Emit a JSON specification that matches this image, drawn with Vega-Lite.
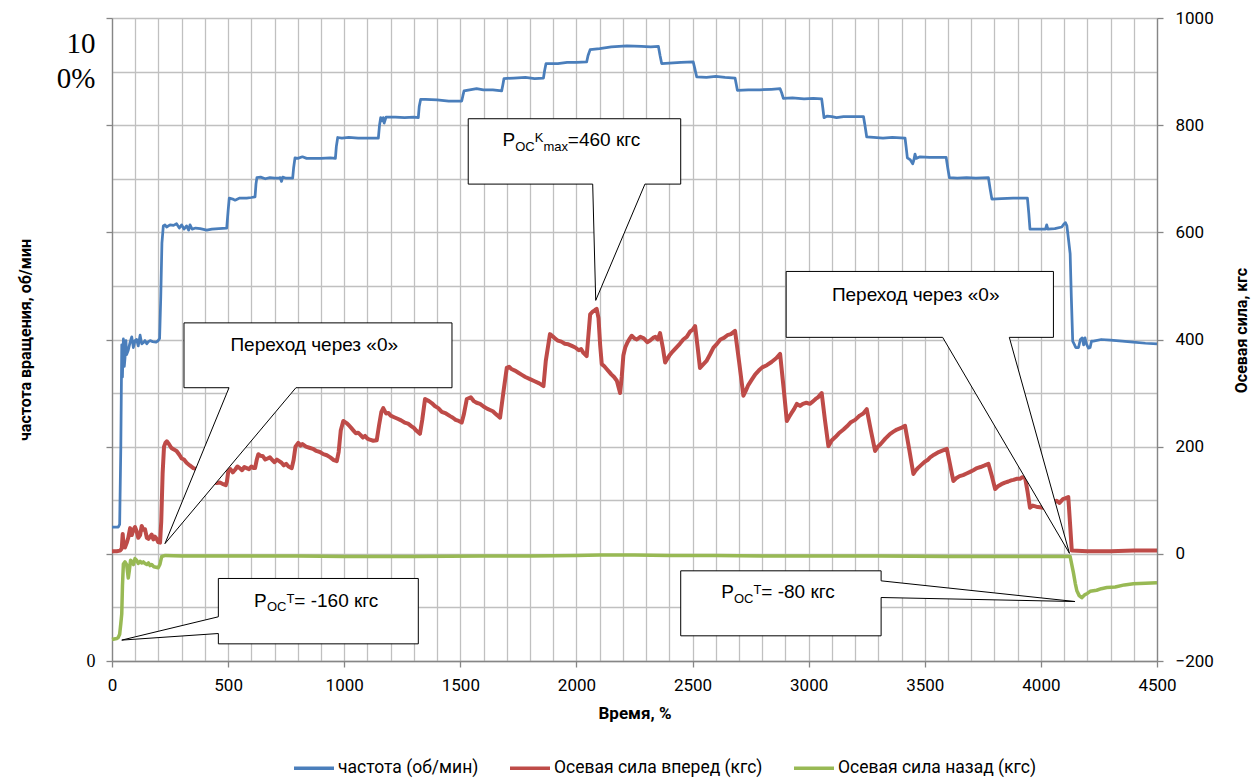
{
"$schema":"https://vega.github.io/schema/vega-lite/v6.json",
"width":1045,"height":643,
"autosize":{"type":"none"},
"padding":{"left":112,"top":18,"right":95,"bottom":117},
"background":"white",
"config":{"view":{"stroke":null},"font":"Roboto"},
"datasets":{
"blue":[{"t":0,"v":50},{"t":27,"v":50},{"t":33,"v":55},{"t":38,"v":200},{"t":42,"v":390},{"t":45,"v":330},{"t":49,"v":401},{"t":53,"v":350},{"t":56,"v":365},{"t":60,"v":398},{"t":63,"v":372},{"t":70,"v":380},{"t":78,"v":395},{"t":85,"v":405},{"t":92,"v":385},{"t":99,"v":398},{"t":106,"v":400},{"t":113,"v":388},{"t":121,"v":408},{"t":128,"v":392},{"t":135,"v":394},{"t":142,"v":398},{"t":150,"v":392},{"t":157,"v":396},{"t":164,"v":398},{"t":175,"v":396},{"t":190,"v":395},{"t":199,"v":398},{"t":205,"v":402},{"t":210,"v":480},{"t":215,"v":580},{"t":221,"v":612},{"t":228,"v":614},{"t":235,"v":610},{"t":250,"v":614},{"t":265,"v":613},{"t":278,"v":616},{"t":290,"v":608},{"t":300,"v":614},{"t":310,"v":606},{"t":321,"v":612},{"t":330,"v":604},{"t":336,"v":614},{"t":345,"v":606},{"t":360,"v":608},{"t":380,"v":607},{"t":408,"v":604},{"t":430,"v":606},{"t":460,"v":607},{"t":494,"v":608},{"t":500,"v":640},{"t":505,"v":664},{"t":520,"v":662},{"t":530,"v":660},{"t":550,"v":664},{"t":580,"v":664},{"t":600,"v":665},{"t":616,"v":666},{"t":620,"v":690},{"t":624,"v":702},{"t":640,"v":703},{"t":660,"v":700},{"t":680,"v":702},{"t":700,"v":701},{"t":715,"v":701},{"t":724,"v":702},{"t":730,"v":695},{"t":735,"v":703},{"t":750,"v":701},{"t":778,"v":701},{"t":782,"v":720},{"t":788,"v":739},{"t":800,"v":738},{"t":820,"v":741},{"t":838,"v":738},{"t":860,"v":738},{"t":900,"v":738},{"t":940,"v":739},{"t":962,"v":738},{"t":966,"v":760},{"t":972,"v":777},{"t":990,"v":776},{"t":1020,"v":777},{"t":1060,"v":776},{"t":1100,"v":776},{"t":1147,"v":776},{"t":1152,"v":800},{"t":1157,"v":814},{"t":1163,"v":808},{"t":1168,"v":814},{"t":1172,"v":804},{"t":1180,"v":815},{"t":1220,"v":815},{"t":1260,"v":814},{"t":1300,"v":815},{"t":1319,"v":814},{"t":1323,"v":835},{"t":1329,"v":848},{"t":1350,"v":848},{"t":1400,"v":847},{"t":1450,"v":845},{"t":1506,"v":845},{"t":1511,"v":855},{"t":1516,"v":864},{"t":1540,"v":866},{"t":1570,"v":868},{"t":1599,"v":866},{"t":1640,"v":866},{"t":1678,"v":864},{"t":1683,"v":875},{"t":1688,"v":887},{"t":1730,"v":888},{"t":1780,"v":889},{"t":1820,"v":887},{"t":1858,"v":888},{"t":1863,"v":902},{"t":1869,"v":915},{"t":1920,"v":915},{"t":1960,"v":917},{"t":2000,"v":917},{"t":2044,"v":918},{"t":2050,"v":930},{"t":2059,"v":941},{"t":2100,"v":943},{"t":2150,"v":946},{"t":2217,"v":948},{"t":2280,"v":947},{"t":2320,"v":946},{"t":2353,"v":947},{"t":2360,"v":930},{"t":2367,"v":915},{"t":2400,"v":916},{"t":2450,"v":917},{"t":2503,"v":918},{"t":2510,"v":905},{"t":2518,"v":890},{"t":2560,"v":889},{"t":2600,"v":891},{"t":2640,"v":889},{"t":2683,"v":888},{"t":2688,"v":877},{"t":2693,"v":865},{"t":2740,"v":866},{"t":2790,"v":866},{"t":2840,"v":867},{"t":2877,"v":868},{"t":2884,"v":860},{"t":2891,"v":850},{"t":2930,"v":851},{"t":2980,"v":849},{"t":3020,"v":850},{"t":3056,"v":849},{"t":3061,"v":832},{"t":3066,"v":814},{"t":3080,"v":817},{"t":3100,"v":816},{"t":3120,"v":814},{"t":3150,"v":816},{"t":3200,"v":816},{"t":3236,"v":816},{"t":3243,"v":798},{"t":3250,"v":778},{"t":3280,"v":777},{"t":3320,"v":776},{"t":3360,"v":777},{"t":3415,"v":776},{"t":3420,"v":758},{"t":3425,"v":739},{"t":3438,"v":735},{"t":3448,"v":728},{"t":3453,"v":735},{"t":3458,"v":746},{"t":3463,"v":738},{"t":3480,"v":741},{"t":3520,"v":740},{"t":3560,"v":740},{"t":3592,"v":740},{"t":3599,"v":720},{"t":3606,"v":702},{"t":3640,"v":701},{"t":3680,"v":702},{"t":3720,"v":701},{"t":3774,"v":702},{"t":3781,"v":682},{"t":3789,"v":662},{"t":3830,"v":663},{"t":3880,"v":664},{"t":3942,"v":664},{"t":3948,"v":635},{"t":3953,"v":606},{"t":3990,"v":606},{"t":4020,"v":606},{"t":4025,"v":614},{"t":4030,"v":606},{"t":4060,"v":607},{"t":4090,"v":610},{"t":4100,"v":616},{"t":4106,"v":618},{"t":4112,"v":612},{"t":4118,"v":590},{"t":4126,"v":560},{"t":4131,"v":480},{"t":4137,"v":397},{"t":4145,"v":390},{"t":4150,"v":385},{"t":4162,"v":385},{"t":4170,"v":400},{"t":4178,"v":403},{"t":4184,"v":390},{"t":4190,"v":403},{"t":4196,"v":392},{"t":4205,"v":384},{"t":4212,"v":385},{"t":4218,"v":397},{"t":4226,"v":397},{"t":4260,"v":400},{"t":4300,"v":399},{"t":4350,"v":397},{"t":4398,"v":395},{"t":4450,"v":393},{"t":4500,"v":392}],
"red":[{"t":0,"v":5},{"t":20,"v":5},{"t":35,"v":6},{"t":42,"v":10},{"t":46,"v":37},{"t":50,"v":15},{"t":56,"v":12},{"t":63,"v":20},{"t":70,"v":30},{"t":78,"v":48},{"t":85,"v":35},{"t":92,"v":45},{"t":99,"v":50},{"t":106,"v":42},{"t":113,"v":30},{"t":121,"v":35},{"t":128,"v":52},{"t":135,"v":45},{"t":142,"v":46},{"t":150,"v":30},{"t":157,"v":28},{"t":164,"v":32},{"t":171,"v":36},{"t":178,"v":27},{"t":185,"v":32},{"t":192,"v":28},{"t":199,"v":22},{"t":207,"v":21},{"t":212,"v":60},{"t":218,"v":150},{"t":224,"v":200},{"t":230,"v":207},{"t":236,"v":210},{"t":245,"v":205},{"t":255,"v":198},{"t":265,"v":195},{"t":278,"v":192},{"t":290,"v":185},{"t":300,"v":178},{"t":310,"v":176},{"t":321,"v":170},{"t":335,"v":165},{"t":350,"v":160},{"t":365,"v":158},{"t":380,"v":150},{"t":395,"v":146},{"t":410,"v":144},{"t":422,"v":142},{"t":435,"v":136},{"t":450,"v":132},{"t":465,"v":133},{"t":479,"v":130},{"t":490,"v":128},{"t":495,"v":135},{"t":501,"v":155},{"t":510,"v":158},{"t":520,"v":152},{"t":530,"v":157},{"t":540,"v":163},{"t":550,"v":160},{"t":560,"v":156},{"t":570,"v":162},{"t":580,"v":160},{"t":590,"v":158},{"t":600,"v":163},{"t":610,"v":160},{"t":616,"v":160},{"t":623,"v":175},{"t":630,"v":186},{"t":640,"v":183},{"t":650,"v":182},{"t":660,"v":176},{"t":670,"v":178},{"t":680,"v":180},{"t":690,"v":175},{"t":700,"v":171},{"t":710,"v":176},{"t":720,"v":173},{"t":730,"v":170},{"t":740,"v":165},{"t":750,"v":168},{"t":760,"v":163},{"t":774,"v":160},{"t":782,"v":175},{"t":790,"v":200},{"t":802,"v":207},{"t":812,"v":202},{"t":820,"v":205},{"t":835,"v":200},{"t":850,"v":198},{"t":865,"v":196},{"t":880,"v":192},{"t":895,"v":190},{"t":910,"v":186},{"t":925,"v":184},{"t":940,"v":180},{"t":955,"v":175},{"t":968,"v":173},{"t":976,"v":190},{"t":985,"v":230},{"t":996,"v":248},{"t":1010,"v":244},{"t":1020,"v":240},{"t":1030,"v":235},{"t":1040,"v":230},{"t":1050,"v":225},{"t":1060,"v":226},{"t":1070,"v":222},{"t":1080,"v":217},{"t":1090,"v":220},{"t":1100,"v":215},{"t":1110,"v":213},{"t":1125,"v":211},{"t":1140,"v":212},{"t":1150,"v":240},{"t":1160,"v":265},{"t":1168,"v":272},{"t":1180,"v":262},{"t":1190,"v":263},{"t":1200,"v":258},{"t":1215,"v":255},{"t":1230,"v":252},{"t":1245,"v":249},{"t":1260,"v":245},{"t":1275,"v":243},{"t":1290,"v":238},{"t":1300,"v":235},{"t":1310,"v":230},{"t":1326,"v":224},{"t":1336,"v":250},{"t":1348,"v":289},{"t":1365,"v":285},{"t":1378,"v":281},{"t":1390,"v":276},{"t":1405,"v":272},{"t":1420,"v":265},{"t":1438,"v":262},{"t":1456,"v":257},{"t":1468,"v":254},{"t":1480,"v":250},{"t":1493,"v":248},{"t":1506,"v":245},{"t":1515,"v":260},{"t":1528,"v":289},{"t":1545,"v":292},{"t":1558,"v":285},{"t":1570,"v":282},{"t":1585,"v":280},{"t":1600,"v":275},{"t":1615,"v":271},{"t":1630,"v":268},{"t":1640,"v":266},{"t":1650,"v":262},{"t":1660,"v":258},{"t":1671,"v":254},{"t":1685,"v":300},{"t":1700,"v":347},{"t":1710,"v":349},{"t":1720,"v":345},{"t":1735,"v":342},{"t":1750,"v":338},{"t":1765,"v":334},{"t":1780,"v":330},{"t":1800,"v":326},{"t":1820,"v":322},{"t":1840,"v":318},{"t":1858,"v":313},{"t":1868,"v":360},{"t":1886,"v":410},{"t":1900,"v":405},{"t":1910,"v":401},{"t":1920,"v":398},{"t":1935,"v":396},{"t":1950,"v":392},{"t":1965,"v":391},{"t":1980,"v":388},{"t":1995,"v":385},{"t":2010,"v":380},{"t":2020,"v":382},{"t":2030,"v":375},{"t":2044,"v":369},{"t":2052,"v":410},{"t":2059,"v":447},{"t":2070,"v":452},{"t":2080,"v":455},{"t":2087,"v":457},{"t":2095,"v":440},{"t":2102,"v":390},{"t":2109,"v":354},{"t":2120,"v":350},{"t":2130,"v":345},{"t":2140,"v":340},{"t":2150,"v":335},{"t":2162,"v":330},{"t":2174,"v":323},{"t":2188,"v":300},{"t":2195,"v":330},{"t":2202,"v":370},{"t":2210,"v":385},{"t":2220,"v":395},{"t":2230,"v":402},{"t":2238,"v":407},{"t":2250,"v":402},{"t":2260,"v":400},{"t":2275,"v":405},{"t":2290,"v":402},{"t":2305,"v":395},{"t":2317,"v":398},{"t":2330,"v":403},{"t":2340,"v":405},{"t":2350,"v":400},{"t":2360,"v":412},{"t":2372,"v":385},{"t":2382,"v":357},{"t":2390,"v":363},{"t":2400,"v":370},{"t":2415,"v":378},{"t":2430,"v":385},{"t":2445,"v":392},{"t":2460,"v":400},{"t":2475,"v":405},{"t":2490,"v":415},{"t":2500,"v":418},{"t":2511,"v":425},{"t":2522,"v":385},{"t":2532,"v":347},{"t":2545,"v":353},{"t":2560,"v":360},{"t":2575,"v":372},{"t":2590,"v":385},{"t":2605,"v":392},{"t":2620,"v":400},{"t":2635,"v":403},{"t":2650,"v":408},{"t":2665,"v":410},{"t":2683,"v":416},{"t":2700,"v":360},{"t":2719,"v":295},{"t":2730,"v":305},{"t":2740,"v":315},{"t":2755,"v":325},{"t":2770,"v":335},{"t":2785,"v":342},{"t":2800,"v":348},{"t":2820,"v":352},{"t":2840,"v":358},{"t":2860,"v":365},{"t":2877,"v":373},{"t":2892,"v":310},{"t":2906,"v":248},{"t":2915,"v":255},{"t":2925,"v":262},{"t":2937,"v":270},{"t":2949,"v":280},{"t":2963,"v":276},{"t":2975,"v":280},{"t":2990,"v":282},{"t":3005,"v":280},{"t":3020,"v":285},{"t":3030,"v":289},{"t":3040,"v":292},{"t":3056,"v":300},{"t":3070,"v":250},{"t":3085,"v":201},{"t":3100,"v":212},{"t":3115,"v":218},{"t":3130,"v":225},{"t":3150,"v":232},{"t":3165,"v":238},{"t":3180,"v":245},{"t":3200,"v":250},{"t":3220,"v":258},{"t":3235,"v":262},{"t":3250,"v":270},{"t":3268,"v":230},{"t":3286,"v":192},{"t":3298,"v":200},{"t":3310,"v":205},{"t":3330,"v":215},{"t":3351,"v":224},{"t":3365,"v":228},{"t":3380,"v":232},{"t":3398,"v":235},{"t":3415,"v":239},{"t":3433,"v":195},{"t":3451,"v":149},{"t":3460,"v":155},{"t":3470,"v":160},{"t":3485,"v":166},{"t":3500,"v":172},{"t":3512,"v":175},{"t":3523,"v":180},{"t":3540,"v":185},{"t":3560,"v":190},{"t":3578,"v":193},{"t":3595,"v":196},{"t":3609,"v":166},{"t":3623,"v":136},{"t":3635,"v":141},{"t":3650,"v":145},{"t":3665,"v":147},{"t":3680,"v":150},{"t":3695,"v":153},{"t":3709,"v":156},{"t":3725,"v":160},{"t":3740,"v":162},{"t":3758,"v":165},{"t":3774,"v":168},{"t":3789,"v":145},{"t":3803,"v":121},{"t":3815,"v":126},{"t":3830,"v":130},{"t":3845,"v":133},{"t":3860,"v":135},{"t":3872,"v":137},{"t":3882,"v":138},{"t":3895,"v":140},{"t":3910,"v":140},{"t":3920,"v":143},{"t":3932,"v":142},{"t":3943,"v":115},{"t":3953,"v":86},{"t":3965,"v":90},{"t":3980,"v":88},{"t":3995,"v":87},{"t":4011,"v":86},{"t":4025,"v":90},{"t":4040,"v":92},{"t":4055,"v":96},{"t":4068,"v":99},{"t":4080,"v":95},{"t":4095,"v":102},{"t":4107,"v":104},{"t":4118,"v":106},{"t":4125,"v":60},{"t":4133,"v":6},{"t":4200,"v":5},{"t":4300,"v":5},{"t":4400,"v":6},{"t":4500,"v":6}],
"green":[{"t":0,"v":-160},{"t":20,"v":-158},{"t":27,"v":-156},{"t":33,"v":-150},{"t":38,"v":-130},{"t":42,"v":-112},{"t":45,"v":-60},{"t":49,"v":-19},{"t":56,"v":-15},{"t":63,"v":-20},{"t":70,"v":-45},{"t":75,"v":-30},{"t":80,"v":-12},{"t":85,"v":-14},{"t":92,"v":-20},{"t":99,"v":-9},{"t":106,"v":-12},{"t":113,"v":-18},{"t":121,"v":-14},{"t":128,"v":-17},{"t":135,"v":-15},{"t":142,"v":-18},{"t":150,"v":-20},{"t":157,"v":-17},{"t":164,"v":-22},{"t":171,"v":-20},{"t":180,"v":-24},{"t":190,"v":-25},{"t":199,"v":-26},{"t":206,"v":-20},{"t":214,"v":-5},{"t":230,"v":-3},{"t":300,"v":-4},{"t":500,"v":-4},{"t":800,"v":-4},{"t":1000,"v":-5},{"t":1300,"v":-5},{"t":1600,"v":-4},{"t":1800,"v":-4},{"t":2000,"v":-3},{"t":2100,"v":-2},{"t":2250,"v":-2},{"t":2400,"v":-3},{"t":2600,"v":-3},{"t":2800,"v":-4},{"t":3000,"v":-4},{"t":3300,"v":-4},{"t":3600,"v":-5},{"t":3900,"v":-5},{"t":4100,"v":-5},{"t":4126,"v":-5},{"t":4133,"v":-20},{"t":4140,"v":-35},{"t":4148,"v":-55},{"t":4155,"v":-69},{"t":4165,"v":-78},{"t":4176,"v":-82},{"t":4190,"v":-76},{"t":4200,"v":-74},{"t":4212,"v":-70},{"t":4240,"v":-68},{"t":4260,"v":-65},{"t":4284,"v":-63},{"t":4320,"v":-62},{"t":4360,"v":-58},{"t":4398,"v":-56},{"t":4450,"v":-55},{"t":4500,"v":-54}],
"callouts":[
{"id":"c1","i":0,"t":310,"v":431},{"id":"c1","i":1,"t":1464,"v":431},{"id":"c1","i":2,"t":1464,"v":310},{"id":"c1","i":3,"t":792,"v":310},{"id":"c1","i":4,"t":228,"v":19},{"id":"c1","i":5,"t":504,"v":310},{"id":"c1","i":6,"t":310,"v":310},{"id":"c1","i":7,"t":310,"v":431},
{"id":"c2","i":0,"t":1534,"v":812},{"id":"c2","i":1,"t":2449,"v":812},{"id":"c2","i":2,"t":2449,"v":690},{"id":"c2","i":3,"t":2295,"v":690},{"id":"c2","i":4,"t":2083,"v":473},{"id":"c2","i":5,"t":2070,"v":690},{"id":"c2","i":6,"t":1534,"v":690},{"id":"c2","i":7,"t":1534,"v":812},
{"id":"c3","i":0,"t":2903,"v":527},{"id":"c3","i":1,"t":4054,"v":527},{"id":"c3","i":2,"t":4054,"v":404},{"id":"c3","i":3,"t":3864,"v":404},{"id":"c3","i":4,"t":4123,"v":1},{"id":"c3","i":5,"t":3577,"v":404},{"id":"c3","i":6,"t":2903,"v":404},{"id":"c3","i":7,"t":2903,"v":527},
{"id":"c4","i":0,"t":458,"v":-46},{"id":"c4","i":1,"t":1319,"v":-46},{"id":"c4","i":2,"t":1319,"v":-168},{"id":"c4","i":3,"t":458,"v":-168},{"id":"c4","i":4,"t":458,"v":-148.7},{"id":"c4","i":5,"t":42,"v":-161},{"id":"c4","i":6,"t":458,"v":-117.5},{"id":"c4","i":7,"t":458,"v":-46},
{"id":"c5","i":0,"t":2449,"v":-31.7},{"id":"c5","i":1,"t":3312,"v":-31.7},{"id":"c5","i":2,"t":3312,"v":-50.4},{"id":"c5","i":3,"t":4147,"v":-89},{"id":"c5","i":4,"t":3312,"v":-81.5},{"id":"c5","i":5,"t":3312,"v":-153},{"id":"c5","i":6,"t":2449,"v":-153},{"id":"c5","i":7,"t":2449,"v":-31.7}],
"texts":[
{"t":510,"v":379,"txt":"Переход через «0»","role":"main"},
{"t":3100,"v":471,"txt":"Переход через «0»","role":"main"},
{"t":1682,"v":761,"txt":"P","role":"main"},
{"t":1736,"v":752,"txt":"OC","role":"sub"},
{"t":1820,"v":769,"txt":"K","role":"sup"},
{"t":1858,"v":752,"txt":"max","role":"sub"},
{"t":1963,"v":761,"txt":"=460 кгс","role":"main"},
{"t":612,"v":-99,"txt":"P","role":"main"},
{"t":667,"v":-107,"txt":"OC","role":"sub"},
{"t":751,"v":-91,"txt":"T","role":"sup"},
{"t":785,"v":-99,"txt":"= -160 кгс","role":"main"},
{"t":2624,"v":-83,"txt":"P","role":"main"},
{"t":2678,"v":-92,"txt":"OC","role":"sub"},
{"t":2762,"v":-75,"txt":"T","role":"sup"},
{"t":2796,"v":-83,"txt":"= -80 кгс","role":"main"}]
},
"resolve":{"axis":{"x":"independent","y":"independent"}},
"layer":[
{"data":{"name":"blue"},
 "mark":{"type":"line","strokeWidth":2.75,"strokeJoin":"round"},
 "encoding":{
  "x":{"field":"t","type":"quantitative","scale":{"domain":[0,4500],"nice":false,"zero":false},
   "axis":{"values":[0,100,200,300,400,500,600,700,800,900,1000,1100,1200,1300,1400,1500,1600,1700,1800,1900,2000,2100,2200,2300,2400,2500,2600,2700,2800,2900,3000,3100,3200,3300,3400,3500,3600,3700,3800,3900,4000,4100,4200,4300,4400,4500],
    "format":"d","labelExpr":"datum.value % 500 === 0 ? datum.label : ''",
    "grid":true,"gridColor":"#c0c0c0","gridWidth":1.3,
    "domainColor":"#868686","domainWidth":1.3,"tickColor":"#868686","tickWidth":1.3,"tickSize":6,
    "tickOpacity":{"condition":{"test":"datum.value % 500 === 0","value":1},"value":0},
    "labelFont":"Roboto","labelFontSize":17,"labelColor":"#000","labelPadding":10,
    "labelOverlap":false,"labelFlush":false,"labelBound":false,
    "title":"Время, %","titleFont":"Roboto","titleFontSize":17,"titleFontWeight":"bold","titleColor":"#000","titlePadding":12}},
  "y":{"field":"v","type":"quantitative","scale":{"domain":[-200,1000],"nice":false,"zero":false},
   "axis":{"orient":"left","values":[-200,-100,0,100,200,300,400,500,600,700,800,900,1000],
    "grid":true,"gridColor":"#c0c0c0","gridWidth":1.3,
    "domainColor":"#868686","domainWidth":1.3,"tickColor":"#868686","tickWidth":1.3,"tickSize":6,
    "tickOpacity":{"condition":{"test":"(datum.value + 200) % 200 === 0","value":1},"value":0},
    "labelExpr":"datum.value === 1000 ? ['10', '0%'] : (datum.value === -200 ? '0' : '')",
    "labelFont":"Liberation Serif",
    "labelFontSize":{"condition":{"test":"datum.value === 1000","value":29},"value":18},
    "labelBaseline":{"condition":{"test":"datum.value === 1000","value":"top"},"value":"middle"},
    "labelOffset":{"condition":{"test":"datum.value === 1000","value":11},"value":0},
    "labelLineHeight":35,"labelPadding":11,"labelColor":"#000",
    "labelOverlap":false,"labelFlush":false,"labelBound":false,
    "title":"частота вращения, об/мин","titleFont":"Roboto","titleFontSize":16,"titleFontWeight":"bold","titleColor":"#000","titlePadding":23}},
  "color":{"datum":"частота (об/мин)","type":"nominal",
   "scale":{"domain":["частота (об/мин)","Осевая сила вперед (кгс)","Осевая сила назад (кгс)"],"range":["#4A7EBB","#BE4B48","#98B954"]},
   "legend":{"orient":"none","legendX":180,"legendY":728,"direction":"horizontal","title":null,
    "symbolType":"stroke","symbolSize":1600,"symbolStrokeWidth":3.5,
    "labelFont":"Roboto","labelFontSize":17.5,"labelColor":"#000","labelLimit":400,
    "columnPadding":24,"labelOffset":2,"padding":0}}
 }},
{"data":{"name":"red"},
 "mark":{"type":"line","strokeWidth":4,"strokeJoin":"round"},
 "encoding":{
  "x":{"field":"t","type":"quantitative","scale":{"domain":[0,4500],"nice":false,"zero":false},"axis":null},
  "y":{"field":"v","type":"quantitative","scale":{"domain":[-200,1000],"nice":false,"zero":false},"axis":null},
  "color":{"datum":"Осевая сила вперед (кгс)","type":"nominal"}
 }},
{"data":{"name":"green"},
 "mark":{"type":"line","strokeWidth":3.5,"strokeJoin":"round"},
 "encoding":{
  "x":{"field":"t","type":"quantitative","scale":{"domain":[0,4500],"nice":false,"zero":false},"axis":null},
  "y":{"field":"v","type":"quantitative","scale":{"domain":[-200,1000],"nice":false,"zero":false},"axis":null},
  "color":{"datum":"Осевая сила назад (кгс)","type":"nominal"}
 }},
{"data":{"name":"callouts"},
 "mark":{"type":"line","fill":"white","stroke":"black","strokeWidth":1,"strokeJoin":"miter"},
 "encoding":{
  "x":{"field":"t","type":"quantitative","scale":{"domain":[0,4500],"nice":false,"zero":false},"axis":null},
  "y":{"field":"v","type":"quantitative","scale":{"domain":[-200,1000],"nice":false,"zero":false},
   "axis":{"orient":"right","values":[-200,0,200,400,600,800,1000],"format":"d","grid":false,
    "domainColor":"#868686","domainWidth":1.3,"tickColor":"#868686","tickWidth":1.3,"tickSize":6,
    "labelFont":"Roboto","labelFontSize":17,"labelColor":"#000","labelPadding":12,
    "labelOverlap":false,"labelFlush":false,"labelBound":false,
    "title":"Осевая сила, кгс","titleFont":"Roboto","titleFontSize":16,"titleFontWeight":"bold","titleColor":"#000",
    "titleAngle":270,"titleY":312,"titlePadding":36}},
  "detail":{"field":"id","type":"nominal"},
  "order":{"field":"i","type":"quantitative"}
 }},
{"data":{"name":"texts"},
 "transform":[{"filter":"datum.role === 'main'"}],
 "mark":{"type":"text","align":"left","baseline":"alphabetic","font":"Liberation Sans","fontSize":19,"color":"black"},
 "encoding":{
  "x":{"field":"t","type":"quantitative","scale":{"domain":[0,4500],"nice":false,"zero":false},"axis":null},
  "y":{"field":"v","type":"quantitative","scale":{"domain":[-200,1000],"nice":false,"zero":false},"axis":null},
  "text":{"field":"txt","type":"nominal"}
 }},
{"data":{"name":"texts"},
 "transform":[{"filter":"datum.role !== 'main'"}],
 "mark":{"type":"text","align":"left","baseline":"alphabetic","font":"Liberation Sans","fontSize":13,"color":"black"},
 "encoding":{
  "x":{"field":"t","type":"quantitative","scale":{"domain":[0,4500],"nice":false,"zero":false},"axis":null},
  "y":{"field":"v","type":"quantitative","scale":{"domain":[-200,1000],"nice":false,"zero":false},"axis":null},
  "text":{"field":"txt","type":"nominal"}
 }}
]
}
